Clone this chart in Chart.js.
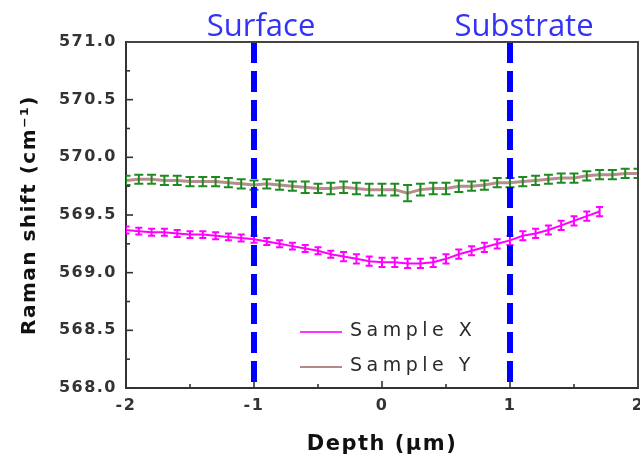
<!DOCTYPE html>
<html><head><meta charset="utf-8">
<script src="https://cdn.jsdelivr.net/npm/chart.js@4.4.1/dist/chart.umd.min.js"></script>
<style>html,body{margin:0;padding:0;background:#fff;}</style>
</head><body>
<canvas id="c" width="640" height="462"></canvas>
<script>
// ---------- data ----------
const depthX = [-2.0,-1.9,-1.8,-1.7,-1.6,-1.5,-1.4,-1.3,-1.2,-1.1,-1.0,-0.9,-0.8,-0.7,-0.6,-0.5,-0.4,-0.3,-0.2,-0.1,0.0,0.1,0.2,0.3,0.4,0.5,0.6,0.7,0.8,0.9,1.0,1.1,1.2,1.3,1.4,1.5,1.6,1.7];
const shiftX = [569.37,569.36,569.35,569.35,569.34,569.33,569.33,569.32,569.31,569.30,
                569.29,569.27,569.25,569.23,569.21,569.19,569.16,569.14,569.12,569.10,
                569.09,569.09,569.08,569.08,569.09,569.12,569.16,569.19,569.22,569.25,
                569.28,569.32,569.34,569.37,569.41,569.45,569.49,569.53];
const errX = [0.03,0.03,0.03,0.03,0.03,0.03,0.03,0.03,0.03,0.03,0.03,0.03,0.03,0.03,0.03,0.03,0.03,0.04,0.04,0.04,
              0.04,0.04,0.04,0.04,0.04,0.04,0.04,0.04,0.04,0.04,0.04,0.04,0.04,0.04,0.04,0.04,0.04,0.04];
const depthY = [-2.0,-1.9,-1.8,-1.7,-1.6,-1.5,-1.4,-1.3,-1.2,-1.1,-1.0,-0.9,-0.8,-0.7,-0.6,-0.5,-0.4,-0.3,-0.2,-0.1,0.0,0.1,0.2,0.3,0.4,0.5,0.6,0.7,0.8,0.9,1.0,1.1,1.2,1.3,1.4,1.5,1.6,1.7,1.8,1.9,2.0];
const shiftY = [569.80,569.81,569.81,569.80,569.80,569.79,569.79,569.79,569.78,569.77,
                569.76,569.77,569.76,569.75,569.74,569.73,569.73,569.74,569.73,569.72,
                569.72,569.72,569.69,569.72,569.73,569.73,569.75,569.75,569.76,569.78,
                569.78,569.79,569.80,569.81,569.82,569.82,569.84,569.85,569.85,569.86,569.86];
const errY = [0.04,0.04,0.04,0.04,0.04,0.04,0.04,0.04,0.04,0.04,0.04,0.04,0.04,0.04,0.05,0.04,0.05,0.05,0.05,0.05,
              0.05,0.05,0.07,0.05,0.05,0.05,0.05,0.04,0.04,0.04,0.04,0.04,0.04,0.04,0.04,0.04,0.04,0.04,0.04,0.04,0.04];
const markerDepths = [-1, 1];
const markerLabels = ['Surface', 'Substrate'];
const seriesLabels = ['Sample X', 'Sample Y'];
const xRange = [-2, 2];
const yRange = [568, 571];
const xTitle = 'Depth (µm)';
const yTitle = 'Raman shift (cm⁻¹)';

// ---------- build ----------
const pts = (xs, ys) => xs.map((x, i) => ({x: x, y: ys[i]}));
const markerSets = markerDepths.map(d => ({
  label: 'marker', isMarker: true,
  data: [{x: d, y: yRange[1]}, {x: d, y: yRange[0]}],
  borderColor: '#0000ff', borderWidth: 6, borderDash: [21, 8], borderCapStyle: 'butt',
  pointRadius: 0, fill: false, tension: 0
}));

const tickFont = {family: 'DejaVu Sans', weight: 'bold', size: 16};
const isMajorY = v => Math.abs(v * 2 - Math.round(v * 2)) < 1e-6;

const spacingPlugin = {
  id: 'spacing',
  beforeLayout(chart) { chart.ctx.letterSpacing = '1.5px'; },
  beforeDraw(chart) { chart.ctx.letterSpacing = '1.5px'; }
};

const errorBarPlugin = {
  id: 'errorBars',
  afterDatasetDraw(chart, args) {
    const ds = chart.data.datasets[args.index];
    if (!ds.errors) return;
    const ys = chart.scales.y, ctx = chart.ctx, a = chart.chartArea;
    ctx.save();
    ctx.beginPath(); ctx.rect(a.left, a.top, a.right - a.left, a.bottom - a.top); ctx.clip();
    ctx.strokeStyle = ds.errorColor; ctx.lineWidth = 2;
    const cap = ds.capHalf;
    args.meta.data.forEach((pt, i) => {
      const v = ds.data[i].y, e = ds.errors[i];
      const x = pt.x, y1 = ys.getPixelForValue(v + e), y2 = ys.getPixelForValue(v - e);
      ctx.beginPath();
      ctx.moveTo(x, y1); ctx.lineTo(x, y2);
      ctx.moveTo(x - cap, y1); ctx.lineTo(x + cap, y1);
      ctx.moveTo(x - cap, y2); ctx.lineTo(x + cap, y2);
      ctx.stroke();
    });
    ctx.restore();
  }
};

const decorPlugin = {
  id: 'decor',
  afterDraw(chart) {
    const ctx = chart.ctx, a = chart.chartArea, xs = chart.scales.x, ys = chart.scales.y;
    ctx.save();
    ctx.letterSpacing = '0px';
    // inward tick marks
    ctx.strokeStyle = '#333'; ctx.lineWidth = 1.6;
    ys.ticks.forEach(t => {
      const y = ys.getPixelForValue(t.value);
      const len = t.label !== '' ? 7 : 4;
      ctx.beginPath(); ctx.moveTo(a.left, y); ctx.lineTo(a.left + len, y); ctx.stroke();
    });
    xs.ticks.forEach(t => {
      const x = xs.getPixelForValue(t.value);
      const len = t.label !== '' ? 7 : 4;
      ctx.beginPath(); ctx.moveTo(x, a.bottom); ctx.lineTo(x, a.bottom - len); ctx.stroke();
    });
    // frame top/right
    ctx.strokeStyle = '#444'; ctx.lineWidth = 2;
    ctx.beginPath(); ctx.moveTo(a.left, a.top); ctx.lineTo(a.right, a.top); ctx.lineTo(a.right, a.bottom); ctx.stroke();
    // marker labels
    ctx.fillStyle = '#3333f5';
    ctx.font = '31px "Open Sans"';
    ctx.textAlign = 'center'; ctx.textBaseline = 'alphabetic';
    const offs = [7, 14];
    markerDepths.forEach((d, i) => {
      ctx.fillText(markerLabels[i], xs.getPixelForValue(d) + offs[i], 36);
    });
    // legend
    const items = chart.data.datasets.filter(d => d.inLegend);
    ctx.font = '19px "DejaVu Sans"';
    ctx.letterSpacing = '4.5px';
    ctx.textAlign = 'left'; ctx.textBaseline = 'middle';
    items.forEach((d, i) => {
      const y = a.top + 290 + i * 35;
      ctx.strokeStyle = d.legendColor; ctx.lineWidth = 2;
      ctx.beginPath(); ctx.moveTo(a.left + 174, y); ctx.lineTo(a.left + 216, y); ctx.stroke();
      ctx.fillStyle = '#2a2a2a';
      ctx.fillText(d.label, a.left + 224, y - 1);
    });
    ctx.restore();
  }
};

new Chart(document.getElementById('c'), {
  type: 'line',
  data: {
    datasets: [
      ...markerSets,
      {label: seriesLabels[0], inLegend: true, data: pts(depthX, shiftX), errors: errX,
       borderColor: '#ff00ff', legendColor: '#ff33ff', errorColor: '#ff00ff', capHalf: 3.5,
       borderWidth: 2, pointRadius: 0, fill: false, tension: 0},
      {label: seriesLabels[1], inLegend: true, data: pts(depthY, shiftY), errors: errY,
       borderColor: '#b58d8d', legendColor: '#b08a8a', errorColor: '#1f8a1f', capHalf: 4.5,
       borderWidth: 3, pointRadius: 0, fill: false, tension: 0}
    ]
  },
  options: {
    responsive: false, animation: false,
    layout: {padding: {top: 42, right: 2, bottom: 0, left: 0}},
    plugins: {legend: {display: false}, tooltip: {enabled: false}},
    scales: {
      x: {
        type: 'linear', min: xRange[0], max: xRange[1],
        grid: {display: false, drawTicks: false},
        border: {display: true, color: '#333', width: 2},
        ticks: {stepSize: 0.5, autoSkip: false, maxRotation: 0, padding: 8, color: '#333', font: tickFont,
                callback: v => Number.isInteger(v) ? String(v) : ''},
        title: {display: true, text: xTitle, color: '#111',
                font: {family: 'DejaVu Sans', weight: 'bold', size: 21}, padding: {top: 0, bottom: 5}},
        afterFit: s => { s.height = 74; s.paddingLeft = 0; s.paddingRight = 0; }
      },
      y: {
        min: yRange[0], max: yRange[1],
        grid: {display: false, drawTicks: false},
        border: {display: true, color: '#333', width: 2},
        ticks: {stepSize: 0.25, autoSkip: false, padding: 9, color: '#333', font: tickFont,
                callback: v => isMajorY(v) ? v.toFixed(1) : ''},
        title: {display: true, text: yTitle, color: '#111',
                font: {family: 'DejaVu Sans', weight: 'bold', size: 20}, padding: {top: 18, bottom: 0}},
        afterFit: s => { s.width = 126; }
      }
    }
  },
  plugins: [spacingPlugin, errorBarPlugin, decorPlugin]
});
</script>
</body></html>
